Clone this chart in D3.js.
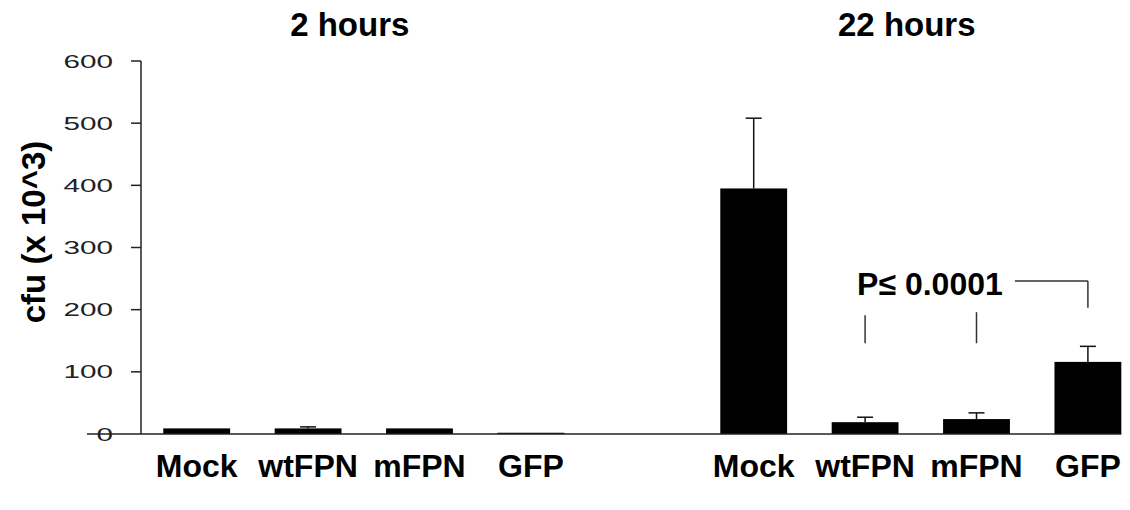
<!DOCTYPE html>
<html><head><meta charset="utf-8">
<script src="https://cdn.jsdelivr.net/npm/d3@7"></script>
<style>body{margin:0;background:#fff} text{font-family:"Liberation Sans",Arial,sans-serif}</style>
</head><body><svg id="c" width="1130" height="510"></svg>
<script>
const groups = ["2 hours", "22 hours"];
const treatments = ["Mock", "wtFPN", "mFPN", "GFP"];
const means2h = [9, 9, 9, 2];
const errTop2h = [9, 11.5, 9, 2];
const means22h = [395, 19, 24, 116];
const errTop22h = [508, 27, 34, 141];
const yTicks = [0, 100, 200, 300, 400, 500, 600];
const yTitle = "cfu (x 10^3)";
const pLabel = "P\u2264 0.0001";
// significance marks (22 hours): treatment, bottom value, top value
const sigTreat = ["wtFPN", "mFPN", "GFP"];
const sigBottom = [146, 146, 203];
const sigTop = [191, 196, 246];

const rows = [];
groups.forEach((g, gi) => treatments.forEach((t, ti) => rows.push({
  g, t, key: g + "|" + t,
  v: gi === 0 ? means2h[ti] : means22h[ti],
  e: gi === 0 ? errTop2h[ti] : errTop22h[ti]
})));
const slots = [...rows.slice(0, 4).map(d => d.key), "gap", ...rows.slice(4).map(d => d.key)];

const svg = d3.select("#c");
const axisX = 141;
const x = d3.scaleBand().domain(slots).range([axisX, axisX + 9 * 111.4]).paddingInner(0.4).paddingOuter(0.2);
const y = d3.scaleLinear().domain([0, 600]).range([434, 61]);
const bw = x.bandwidth();
const cx = k => x(k) + bw / 2;

// bars
svg.selectAll("rect.bar").data(rows).join("rect").attr("class", "bar")
  .attr("x", d => x(d.key)).attr("width", bw)
  .attr("y", d => y(d.v)).attr("height", d => y(0) - y(d.v)).attr("fill", "#000");

// error bars
const eb = rows.filter(d => d.e > d.v);
svg.selectAll("line.ev").data(eb).join("line").attr("class", "ev")
  .attr("x1", d => cx(d.key)).attr("x2", d => cx(d.key))
  .attr("y1", d => y(d.v)).attr("y2", d => y(d.e)).attr("stroke", "#111").attr("stroke-width", 1.5);
svg.selectAll("line.ec").data(eb).join("line").attr("class", "ec")
  .attr("x1", d => cx(d.key) - 8).attr("x2", d => cx(d.key) + 8)
  .attr("y1", d => y(d.e)).attr("y2", d => y(d.e)).attr("stroke", "#111").attr("stroke-width", 1.5);

// y axis
svg.append("line").attr("x1", axisX).attr("x2", axisX).attr("y1", y(0)).attr("y2", y(600))
  .attr("stroke", "#222").attr("stroke-width", 1.5);
svg.selectAll("line.yt").data(yTicks.filter(v => v > 0)).join("line").attr("class", "yt")
  .attr("x1", axisX - 10).attr("x2", axisX).attr("y1", d => y(d)).attr("y2", d => y(d))
  .attr("stroke", "#222").attr("stroke-width", 1.5);
svg.selectAll("text.yl").data(yTicks).join("text").attr("class", "yl")
  .attr("transform", d => `translate(113,${y(d) + 6.5}) scale(1.65,1)`)
  .attr("text-anchor", "end").attr("font-size", 18).attr("fill", "#222").text(d => d);

// x axis line
svg.append("line").attr("x1", axisX - 54).attr("x2", x(slots[slots.length - 1]) + bw)
  .attr("y1", y(0)).attr("y2", y(0)).attr("stroke", "#222").attr("stroke-width", 1.5);

// category labels
svg.selectAll("text.cat").data(rows).join("text").attr("class", "cat")
  .attr("x", d => cx(d.key)).attr("y", 477).attr("text-anchor", "middle")
  .attr("font-size", 32).attr("font-weight", "bold").text(d => d.t);

// group titles
groups.forEach((g, gi) => {
  const ks = rows.filter(d => d.g === g).map(d => d.key);
  const mid = (cx(ks[0]) + cx(ks[3])) / 2;
  svg.append("text").attr("x", mid - 14).attr("y", 36).attr("text-anchor", "middle")
    .attr("font-size", 33).attr("font-weight", "bold").text(g);
});

// y title
svg.append("text").attr("transform", `translate(45,232) rotate(-90)`)
  .attr("text-anchor", "middle").attr("font-size", 33).attr("font-weight", "bold").text(yTitle);

// significance annotation
const sk = sigTreat.map(t => "22 hours|" + t);
svg.selectAll("line.sig").data(sk).join("line").attr("class", "sig")
  .attr("x1", d => cx(d)).attr("x2", d => cx(d))
  .attr("y1", (d, i) => y(sigBottom[i])).attr("y2", (d, i) => y(sigTop[i]))
  .attr("stroke", "#333").attr("stroke-width", 1.5);
svg.append("line").attr("x1", cx(sk[2]) - 73).attr("x2", cx(sk[2]))
  .attr("y1", y(sigTop[2])).attr("y2", y(sigTop[2])).attr("stroke", "#333").attr("stroke-width", 1.5);
svg.append("text").attr("x", cx(sk[0]) - 8).attr("y", y(224))
  .attr("font-size", 32).attr("font-weight", "bold").text(pLabel);
</script></body></html>
